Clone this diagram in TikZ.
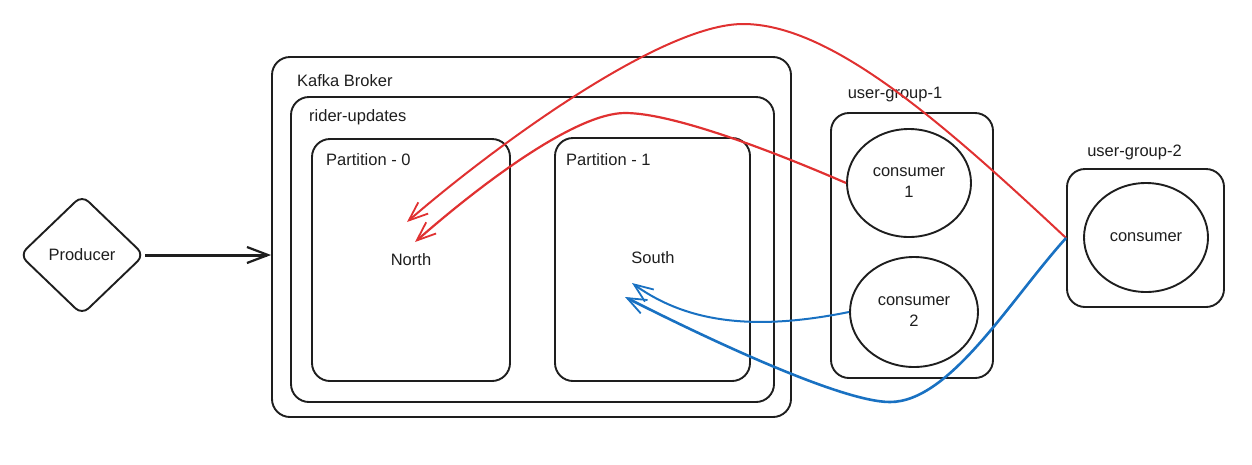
\documentclass[tikz,border=0pt]{standalone}
\usepackage{fontspec}
\setmainfont{Liberation Sans}
\usetikzlibrary{shapes.geometric,arrows.meta}
\definecolor{exred}{HTML}{E03131}
\definecolor{exblue}{HTML}{1971C2}
\definecolor{exblack}{HTML}{1E1E1E}
\begin{document}
\begin{tikzpicture}[x=1pt,y=-1pt,
  every node/.style={font=\fontsize{16.5}{21}\selectfont, text=exblack},
  box/.style={draw=exblack, line width=1.9pt, rounded corners=18pt, minimum width=#1, inner sep=0pt},
  circ/.style={draw=exblack, line width=1.9pt, ellipse, inner sep=0pt, align=center},
  lbl/.style={anchor=west, inner sep=0pt},
  tip/.style={-{Straight Barb[length=19pt,width=15pt,line width=1.8pt]}},
  redln/.style={draw=exred, tip},
  blueln/.style={draw=exblue, tip}]
\useasboundingbox (0,0) rectangle (1252,464);

% producer
\node[draw=exblack, line width=1.9pt, diamond, minimum width=125pt, minimum height=120pt, inner sep=0pt, rounded corners=9pt] (prod) at (82,255) {Producer};

% broker and topic
\node[box=519pt, minimum height=360pt] (broker) at (531.5,237) {};
\node[lbl] (brokerlbl) at (297,81) {Kafka Broker};
\node[box=483pt, minimum height=305pt] (rider) at (532.5,249.5) {};
\node[lbl] (riderlbl) at (309,117) {rider-updates};
\node[box=198pt, minimum height=242pt] (p0) at (411,260) {};
\node[lbl] (p0lbl) at (326,160) {Partition - 0};
\node[box=195pt, minimum height=243pt] (p1) at (652.5,259.5) {};
\node[lbl] (p1lbl) at (566,160) {Partition - 1};
\node (north) at (411,260) {North};
\node (south) at (653,258) {South};

% user groups
\node[box=162pt, minimum height=265pt] (ug1) at (912,245.5) {};
\node (ug1lbl) at (895,95) {user-group-1};
\node[circ, minimum width=124pt, minimum height=108pt] (c1) at (909,183) {consumer\\1};
\node[circ, minimum width=128pt, minimum height=110pt] (c2) at (914,312) {consumer\\2};
\node[box=157pt, minimum height=138pt] (ug2) at (1145.5,238) {};
\node (ug2lbl) at (1134.5,152) {user-group-2};
\node[circ, minimum width=124pt, minimum height=109pt] (c3) at (1146,237.5) {consumer};

% arrow end points
\coordinate (nA) at (415,242);
\coordinate (nB) at (407,222);
\coordinate (sA) at (632,283);
\coordinate (sB) at (625,297);

% producer -> broker
\draw[draw=exblack, line width=3pt, -{Straight Barb[length=21pt,width=16pt,line width=2.2pt]}] (prod.east) -- (prod.east -| broker.west);

% red connectors
\draw[redln, line width=2.2pt] (c1.west) .. controls (800,163) and (680,113) .. (625,113)
   .. controls (575,113) and (480,185) .. (nA);
\draw[redln, line width=2pt] (ug2.west) .. controls (940,120) and (830,24) .. (743,24)
   .. controls (660,24) and (490,150) .. (nB);

% blue connectors
\draw[blueln, line width=2pt] (c2.west) .. controls (760,330) and (690,325) .. (sA);
\draw[blueln, line width=2.6pt] (ug2.west) .. controls (1010,300) and (950,402) .. (890,402)
   .. controls (840,402) and (700,335) .. (sB);
\end{tikzpicture}
\end{document}
